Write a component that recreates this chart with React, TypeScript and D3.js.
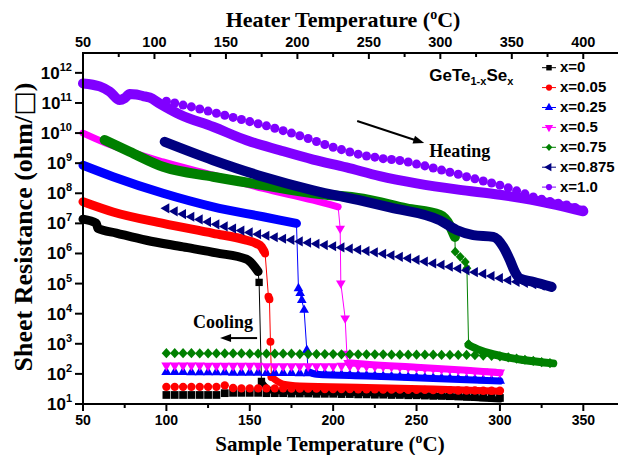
import React from 'react';
import * as d3 from 'd3';

// ---------- canvas & frame ----------
const W = 618;
const H = 455;
const FRAME = { left: 83, right: 619, top: 53, bottom: 404 };

// ---------- axes ----------
const sampleDomain = [50, 371.4];   // bottom axis, sample temperature (°C)
const heaterDomain = [50, 425];     // top axis, heater temperature (°C)
const resistanceDomain = [10, 4.57e12];

const sampleTicks = [50, 100, 150, 200, 250, 300, 350];
const sampleMinorTicks = [75, 125, 175, 225, 275, 325];
const heaterTicks = [50, 100, 150, 200, 250, 300, 350, 400];
const heaterMinorTicks = [75, 125, 175, 225, 275, 325, 375];
const decadeExponents = [1, 2, 3, 4, 5, 6, 7, 8, 9, 10, 11, 12];

// ---------- series meta ----------
const seriesLabels = ['x=0', 'x=0.05', 'x=0.25', 'x=0.5', 'x=0.75', 'x=0.875', 'x=1.0'];
const seriesColors = ['#000000', '#ff0000', '#0000ff', '#ff00ff', '#008000', '#000080', '#8000ff'];
const seriesShapes = ['square', 'circle', 'up', 'down', 'diamond', 'left', 'circle'];

// ---------- data: log10(sheet resistance / ohm per square) ----------
// heating, amorphous branch
const heatT_x0 = [50, 58, 59, 70, 88, 110, 130, 148, 152, 155];
const heatL_x0 = [7.14, 7.0, 6.83, 6.68, 6.44, 6.22, 6.02, 5.81, 5.62, 5.40];
const heatT_x005 = [50, 68, 98, 128, 148, 154, 157, 158.5];
const heatL_x005 = [7.72, 7.38, 7.0, 6.67, 6.44, 6.33, 6.22, 6.08];
const heatT_x025 = [50, 68, 98, 128, 158, 178];
const heatL_x025 = [8.93, 8.55, 8.0, 7.55, 7.22, 7.0];
const heatT_x05 = [50, 64, 98, 128, 158, 188, 203];
const heatL_x05 = [10.0, 9.66, 9.04, 8.6, 8.16, 7.77, 7.55];
const heatT_x075 = [63, 78, 98, 128, 158, 188, 218, 244, 264, 270, 273];
const heatL_x075 = [9.77, 9.38, 8.88, 8.55, 8.27, 8.0, 7.82, 7.5, 7.28, 6.92, 6.55];
const heatT_x0875 = [99, 128, 158, 188, 218, 234, 264, 274, 284, 296, 302, 306, 309, 312, 320, 331];
const heatL_x0875 = [9.71, 9.1, 8.55, 8.1, 7.74, 7.53, 7.1, 6.78, 6.61, 6.55, 6.22, 5.78, 5.39, 5.17, 5.06, 4.89];
const heatT_x1 = [50, 60, 66, 72, 75, 78, 82, 86, 90, 96, 108, 128, 148, 168, 188, 208, 228, 250, 275, 300, 330, 350];
const heatL_x1 = [11.65, 11.55, 11.38, 11.1, 11.16, 11.3, 11.28, 11.23, 11.18, 10.98, 10.62, 10.21, 9.76, 9.43, 9.12, 8.86, 8.57, 8.33, 8.12, 7.95, 7.66, 7.4];

// heating, crystallisation drop
const dropT_x0 = [155.6, 157];
const dropL_x0 = [5.04, 1.75];
const dropT_x005 = [159.2, 161.2, 161.8, 162.4, 163];
const dropL_x005 = [6.0, 4.56, 4.48, 3.07, 1.9];
const dropT_x025 = [179.2, 180.2, 181.2, 182.6, 184.2, 185];
const dropL_x025 = [4.84, 4.68, 4.45, 4.12, 2.79, 2.08];
const dropT_x05 = [204.2, 204.6, 207.2, 208.2, 209];
const dropL_x05 = [6.83, 5.01, 3.85, 2.68, 2.37];
const dropT_x075 = [273.2, 276.2, 279.2, 280.2, 281.2];
const dropL_x075 = [6.06, 5.89, 5.72, 5.51, 3.0];

// heating, crystalline branch
const lowT_x0 = [157, 160, 165, 200, 250, 300];
const lowL_x0 = [1.75, 1.55, 1.42, 1.38, 1.3, 1.15];
const lowT_x005 = [163, 170, 180, 220, 260, 300];
const lowL_x005 = [1.9, 1.66, 1.6, 1.55, 1.5, 1.42];
const lowT_x025 = [185, 190, 220, 260, 300];
const lowL_x025 = [2.08, 1.99, 1.93, 1.85, 1.76];
const lowT_x05 = [209, 220, 250, 280, 300];
const lowL_x05 = [2.37, 2.32, 2.22, 2.12, 2.04];
const lowT_x075 = [281.2, 288, 294, 314, 332];
const lowL_x075 = [2.96, 2.79, 2.68, 2.46, 2.35];

// cooling, one point every 5 °C starting at 100 °C
const coolTemps = [100, 105, 110, 115, 120, 125, 130, 135, 140, 145, 150, 155, 160, 165, 170, 175, 180, 185, 190, 195,
  200, 205, 210, 215, 220, 225, 230, 235, 240, 245, 250, 255, 260, 265, 270, 275, 280, 285, 290, 295,
  300, 305, 310, 315, 320, 325, 330, 335, 340, 345, 350];
const coolL_x0 = [1.3, 1.3, 1.3, 1.3, 1.3, 1.3, 1.3, 1.36, 1.37, 1.37, 1.37, 1.37, 1.36, 1.36, 1.36, 1.35, 1.35, 1.35, 1.34, 1.34,
  1.34, 1.33, 1.33, 1.32, 1.32, 1.31, 1.31, 1.3, 1.3, 1.29, 1.29, 1.28, 1.27, 1.27, 1.26, 1.25, 1.24, 1.23, 1.22, 1.21, 1.2];
const coolL_x005 = [1.57, 1.57, 1.57, 1.57, 1.57, 1.57, 1.57, 1.62, 1.53, 1.52, 1.52, 1.52, 1.52, 1.52, 1.52, 1.51, 1.51, 1.51, 1.51, 1.5,
  1.5, 1.5, 1.5, 1.49, 1.49, 1.49, 1.48, 1.48, 1.48, 1.47, 1.47, 1.47, 1.46, 1.46, 1.46, 1.45, 1.45, 1.45, 1.44, 1.44, 1.44];
const coolL_x025 = [2.06, 2.06, 2.06, 2.05, 2.05, 2.05, 2.05, 2.05, 2.04, 2.04, 2.04, 2.04, 2.03, 2.03, 2.03, 2.03, 2.02, 2.02, 2.01, 2.0,
  1.98, 1.97, 1.96, 1.95, 1.94, 1.93, 1.92, 1.91, 1.9, 1.89, 1.88, 1.87, 1.86, 1.85, 1.84, 1.83, 1.82, 1.81, 1.79, 1.78, 1.77];
const coolL_x05 = [2.28, 2.28, 2.28, 2.28, 2.28, 2.27, 2.27, 2.27, 2.27, 2.27, 2.27, 2.27, 2.26, 2.26, 2.26, 2.26, 2.26, 2.26, 2.26, 2.26,
  2.26, 2.27, 2.27, 2.26, 2.26, 2.25, 2.25, 2.24, 2.23, 2.22, 2.21, 2.19, 2.18, 2.16, 2.15, 2.13, 2.12, 2.1, 2.08, 2.07, 2.05];
const coolL_x075 = [2.69, 2.69, 2.69, 2.69, 2.68, 2.68, 2.68, 2.68, 2.68, 2.68, 2.67, 2.67, 2.67, 2.67, 2.67, 2.67, 2.66, 2.66, 2.66, 2.66,
  2.66, 2.65, 2.65, 2.65, 2.65, 2.65, 2.65, 2.64, 2.64, 2.64, 2.64, 2.64, 2.64, 2.63, 2.63, 2.63, 2.63, 2.62, 2.61, 2.6,
  2.58, 2.55, 2.51, 2.47, 2.43, 2.39, 2.36];
const coolL_x0875 = [7.5, 7.4, 7.31, 7.22, 7.13, 7.05, 6.97, 6.9, 6.83, 6.76, 6.7, 6.64, 6.59, 6.54, 6.49, 6.45, 6.4, 6.36, 6.32, 6.28,
  6.24, 6.2, 6.16, 6.12, 6.08, 6.04, 5.99, 5.94, 5.89, 5.84, 5.79, 5.73, 5.67, 5.62, 5.56, 5.5, 5.44, 5.38, 5.32, 5.25,
  5.18, 5.11, 5.06, 5.02, 4.98, 4.93, 4.89];
const coolL_x1 = [11.06, 11.0, 10.93, 10.87, 10.8, 10.73, 10.66, 10.59, 10.52, 10.45, 10.38, 10.31, 10.24, 10.16, 10.08, 10.0, 9.91, 9.82, 9.72, 9.62,
  9.53, 9.45, 9.37, 9.3, 9.24, 9.2, 9.15, 9.12, 9.09, 9.04, 8.97, 8.91, 8.84, 8.77, 8.7, 8.63, 8.55, 8.48, 8.41, 8.34,
  8.27, 8.18, 8.08, 7.98, 7.88, 7.8, 7.73, 7.67, 7.61, 7.53, 7.44];

type Pair = [number[], number[]];
interface Series {
  heat: Pair; drop?: Pair; low?: Pair; cool: number[];
  band: number; lowBand: number; size: number;
}

const series: Series[] = [
  { heat: [heatT_x0, heatL_x0], drop: [dropT_x0, dropL_x0], low: [lowT_x0, lowL_x0], cool: coolL_x0, band: 9, lowBand: 6, size: 60 },
  { heat: [heatT_x005, heatL_x005], drop: [dropT_x005, dropL_x005], low: [lowT_x005, lowL_x005], cool: coolL_x005, band: 9, lowBand: 7, size: 55 },
  { heat: [heatT_x025, heatL_x025], drop: [dropT_x025, dropL_x025], low: [lowT_x025, lowL_x025], cool: coolL_x025, band: 9, lowBand: 7, size: 45 },
  { heat: [heatT_x05, heatL_x05], drop: [dropT_x05, dropL_x05], low: [lowT_x05, lowL_x05], cool: coolL_x05, band: 7, lowBand: 7, size: 45 },
  { heat: [heatT_x075, heatL_x075], drop: [dropT_x075, dropL_x075], low: [lowT_x075, lowL_x075], cool: coolL_x075, band: 10, lowBand: 8, size: 60 },
  { heat: [heatT_x0875, heatL_x0875], cool: coolL_x0875, band: 10, lowBand: 10, size: 45 },
  { heat: [heatT_x1, heatL_x1], cool: coolL_x1, band: 10, lowBand: 10, size: 64 },
];

// ---------- scales ----------
const xSample = d3.scaleLinear().domain(sampleDomain).range([FRAME.left, FRAME.right]);
const xHeater = d3.scaleLinear().domain(heaterDomain).range([FRAME.left, FRAME.right]);
const yRes = d3.scaleLog().domain(resistanceDomain).range([FRAME.bottom, FRAME.top]);
const py = (logR: number) => yRes(Math.pow(10, logR));

const zip = (p: Pair) => p[0].map((t, i) => [t, p[1][i]] as [number, number]);

const bandLine = d3.line<[number, number]>()
  .x(d => xSample(d[0])).y(d => py(d[1])).curve(d3.curveMonotoneX);
const thinLine = d3.line<[number, number]>()
  .x(d => xSample(d[0])).y(d => py(d[1]));

// ---------- markers ----------
const diamondType = {
  draw(ctx: any, size: number) {
    const h = Math.sqrt(size) * 0.66;
    const w = h * 0.92;
    ctx.moveTo(0, -h); ctx.lineTo(w, 0); ctx.lineTo(0, h); ctx.lineTo(-w, 0); ctx.closePath();
  },
};
function symbolPath(shape: string, size: number) {
  const type = shape === 'square' ? d3.symbolSquare
    : shape === 'circle' ? d3.symbolCircle
    : shape === 'diamond' ? diamondType
    : d3.symbolTriangle;
  return d3.symbol(type as any, size)() as string;
}
const rotation = (shape: string) => (shape === 'down' ? 180 : shape === 'left' ? -90 : 0);

function Marker({ shape, x, y, size, color }: { shape: string; x: number; y: number; size: number; color: string }) {
  return <path d={symbolPath(shape, size)} transform={`translate(${x},${y}) rotate(${rotation(shape)})`} fill={color} />;
}

// ---------- annotations (data coordinates) ----------
const heatingArrow = { from: [214.4, 10.4], to: [254.6, 9.67] };
const coolingArrow = { from: [154.4, 3.19], to: [132.2, 3.19] };
const heatingLabel = { t: 257.6, l: 9.2 };
const coolingLabel = { t: 116, l: 3.52 };
const formulaLabel = { t: 257.6, l: 11.72 };

function Arrow({ from, to }: { from: number[]; to: number[] }) {
  const x1 = xSample(from[0]), y1 = py(from[1]);
  const x2 = xSample(to[0]), y2 = py(to[1]);
  const ang = Math.atan2(y2 - y1, x2 - x1);
  const len = 11, half = 4;
  const bx = x2 - len * Math.cos(ang), by = y2 - len * Math.sin(ang);
  const nx = -Math.sin(ang), ny = Math.cos(ang);
  const head = `${x2},${y2} ${bx + nx * half},${by + ny * half} ${bx - nx * half},${by - ny * half}`;
  return (
    <g>
      <line x1={x1} y1={y1} x2={bx + 2 * Math.cos(ang)} y2={by + 2 * Math.sin(ang)} stroke="#000" strokeWidth={2} />
      <polygon points={head} fill="#000" />
    </g>
  );
}

const SANS = "'Liberation Sans', Arial, Helvetica, sans-serif";
const SERIF = "'Liberation Serif', 'Times New Roman', Times, serif";

export default function App() {
  const legendY = (i: number) => 67.7 + 19.9 * i;

  return (
    <svg width={W} height={H} viewBox={`0 0 ${W} ${H}`}
      style={{ position: 'absolute', left: 0, top: 0, background: '#fff' }}>
      <rect x={0} y={0} width={W} height={H} fill="#fff" />

      {/* data */}
      <g>
        {series.map((s, i) => {
          const color = seriesColors[i];
          const shape = seriesShapes[i];
          const heatPts = zip(s.heat);
          const dropPts = s.drop ? zip(s.drop) : [];
          const lowPts = s.low ? zip(s.low) : [];
          const coolPts = s.cool.map((l, k) => [coolTemps[k], l] as [number, number]);
          return (
            <g key={seriesLabels[i]}>
              {coolPts.map((p, k) => (
                <Marker key={k} shape={shape} x={xSample(p[0])} y={py(p[1])} size={s.size} color={color} />
              ))}
              <path d={bandLine(heatPts) as string} fill="none" stroke={color}
                strokeWidth={s.band} strokeLinecap="round" strokeLinejoin="round" />
              {dropPts.length > 0 && (
                <path d={thinLine([heatPts[heatPts.length - 1], ...dropPts]) as string}
                  fill="none" stroke={color} strokeWidth={1} />
              )}
              {dropPts.map((p, k) => (
                <Marker key={`d${k}`} shape={shape} x={xSample(p[0])} y={py(p[1])} size={s.size * 0.9} color={color} />
              ))}
              {lowPts.length > 0 && (
                <path d={bandLine(lowPts) as string} fill="none" stroke={color}
                  strokeWidth={s.lowBand} strokeLinecap="round" strokeLinejoin="round" />
              )}
            </g>
          );
        })}
      </g>

      {/* frame */}
      <g stroke="#000" strokeWidth={2} fill="none">
        <line x1={FRAME.left} y1={FRAME.top} x2={FRAME.right} y2={FRAME.top} />
        <line x1={FRAME.left} y1={FRAME.bottom} x2={FRAME.right} y2={FRAME.bottom} />
        <line x1={FRAME.left} y1={FRAME.top - 1} x2={FRAME.left} y2={FRAME.bottom + 1} />
        <line x1={FRAME.right} y1={FRAME.top} x2={FRAME.right} y2={FRAME.bottom} />
      </g>

      {/* bottom axis */}
      <g stroke="#000" strokeWidth={2}>
        {sampleTicks.map(t => (
          <line key={t} x1={xSample(t)} x2={xSample(t)} y1={FRAME.bottom} y2={FRAME.bottom + 7} />
        ))}
        {sampleMinorTicks.map(t => (
          <line key={t} x1={xSample(t)} x2={xSample(t)} y1={FRAME.bottom} y2={FRAME.bottom + 4} />
        ))}
      </g>
      <g fontFamily={SANS} fontWeight="bold" fontSize={14} textAnchor="middle">
        {sampleTicks.map(t => (
          <text key={t} x={xSample(t)} y={425}>{t}</text>
        ))}
      </g>

      {/* top axis */}
      <g stroke="#000" strokeWidth={2}>
        {heaterTicks.map(t => (
          <line key={t} x1={xHeater(t)} x2={xHeater(t)} y1={FRAME.top} y2={FRAME.top + 6} />
        ))}
        {heaterMinorTicks.map(t => (
          <line key={t} x1={xHeater(t)} x2={xHeater(t)} y1={FRAME.top} y2={FRAME.top + 4} />
        ))}
      </g>
      <g fontFamily={SANS} fontWeight="bold" fontSize={14.5} textAnchor="middle">
        {heaterTicks.map(t => (
          <text key={t} x={xHeater(t)} y={47}>{t}</text>
        ))}
      </g>

      {/* left axis */}
      <g stroke="#000" strokeWidth={2}>
        {decadeExponents.map(e => (
          <line key={e} x1={FRAME.left - 8} x2={FRAME.left} y1={py(e)} y2={py(e)} />
        ))}
      </g>
      <g fontFamily={SANS} fontWeight="bold" textAnchor="end">
        {decadeExponents.map(e => (
          <text key={e} x={72} y={py(e) + 6}>
            <tspan fontSize={17}>10</tspan>
            <tspan fontSize={11} dy={-8}>{e}</tspan>
          </text>
        ))}
      </g>

      {/* axis titles */}
      <text x={343} y={27} textAnchor="middle" fontFamily={SERIF} fontWeight="bold" fontSize={22}>
        Heater Temperature (<tspan fontSize={14} dy={-8}>o</tspan><tspan dy={8}>C)</tspan>
      </text>
      <text x={330} y={451} textAnchor="middle" fontFamily={SERIF} fontWeight="bold" fontSize={21}>
        Sample Temperature (<tspan fontSize={14} dy={-8}>o</tspan><tspan dy={8}>C)</tspan>
      </text>
      <text transform="translate(32,227) rotate(-90)" textAnchor="middle" fontFamily={SERIF} fontWeight="bold" fontSize={26}>
        Sheet Resistance (ohm/<tspan fontFamily="'DejaVu Sans', sans-serif" fontWeight="normal">□</tspan>)
      </text>

      {/* annotations */}
      <text x={xSample(formulaLabel.t)} y={py(formulaLabel.l)} fontFamily={SANS} fontWeight="bold" fontSize={17}>
        GeTe<tspan fontSize={11} dy={4}>1-x</tspan><tspan dy={-4}>Se</tspan><tspan fontSize={11} dy={4}>x</tspan>
      </text>
      <text x={xSample(heatingLabel.t)} y={py(heatingLabel.l)} fontFamily={SERIF} fontWeight="bold" fontSize={18}>Heating</text>
      <text x={xSample(coolingLabel.t)} y={py(coolingLabel.l)} fontFamily={SERIF} fontWeight="bold" fontSize={18}>Cooling</text>
      <Arrow from={heatingArrow.from} to={heatingArrow.to} />
      <Arrow from={coolingArrow.from} to={coolingArrow.to} />

      {/* legend */}
      <g>
        {seriesLabels.map((lab, i) => (
          <g key={lab}>
            <line x1={542} x2={556} y1={legendY(i)} y2={legendY(i)} stroke={seriesColors[i]} strokeWidth={1} />
            <Marker shape={seriesShapes[i]} x={549} y={legendY(i)} size={30} color={seriesColors[i]} />
            <text x={560} y={legendY(i) + 4.5} fontFamily={SANS} fontWeight="bold" fontSize={15}>{lab}</text>
          </g>
        ))}
      </g>
    </svg>
  );
}
